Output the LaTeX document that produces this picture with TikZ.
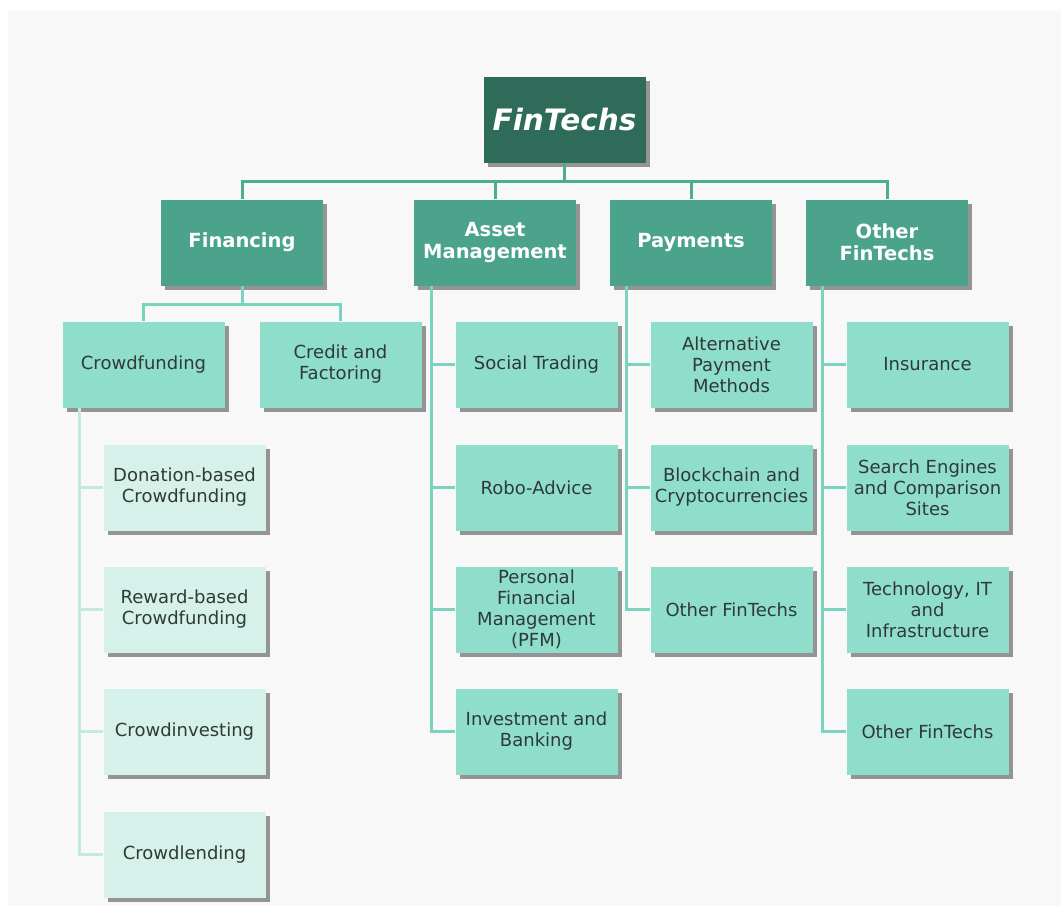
\documentclass[tikz,border=0pt]{standalone}
\usepackage{fontspec}
\setmainfont{DejaVu Sans}
\usetikzlibrary{shadows}

\definecolor{rootgreen}{HTML}{2E6B59}
\definecolor{headgreen}{HTML}{4AA38A}
\definecolor{leafgreen}{HTML}{8FDECB}
\definecolor{subgreen}{HTML}{D5F1EA}
\definecolor{textgray}{HTML}{2F3A36}
\definecolor{pagegray}{HTML}{F8F8F8}
\definecolor{busgreen}{HTML}{4BAE92}
\definecolor{leafbus}{HTML}{7AD3BE}
\definecolor{subbus}{HTML}{C4EAE0}

\tikzset{
  box/.style={minimum width=162pt, minimum height=86pt, inner sep=1pt, align=center,
    drop shadow={shadow xshift=4pt, shadow yshift=-4pt, fill=black, opacity=0.4}},
  root/.style={box, fill=rootgreen, text=white, font=\fontsize{29.5}{32}\selectfont\bfseries\itshape},
  head/.style={box, fill=headgreen, text=white, font=\fontsize{19.5}{22}\selectfont\bfseries},
  leaf/.style={box, fill=leafgreen, text=textgray, font=\fontsize{18}{21}\selectfont},
  subleaf/.style={box, fill=subgreen, text=textgray, font=\fontsize{18}{21}\selectfont},
  mainbus/.style={line width=3pt, draw=busgreen},
  leafline/.style={line width=3pt, draw=leafbus},
  subline/.style={line width=2.5pt, draw=subbus}
}

\begin{document}
\begin{tikzpicture}[x=1pt, y=-1pt]
  \fill[white] (0, 0) rectangle (1061, 916);
  \fill[pagegray] (8, 11) rectangle (1061, 906);
  \useasboundingbox (0, 0) rectangle (1061, 916);

  \node[root] (fintechs) at (564.5, 119.5) {FinTechs};

  \node[head] (financing) at (242, 242.5) {Financing};
  \node[head] (asset) at (495, 242.5) {Asset\\Management};
  \node[head] (payments) at (691, 242.5) {Payments};
  \node[head] (other) at (887, 242.5) {Other\\FinTechs};

  \node[leaf] (crowd) at (143.5, 364.5) {Crowdfunding};
  \node[leaf] (credit) at (340.5, 364.5) {Credit and\\Factoring};

  \node[subleaf] (donation) at (184.5, 487.5) {Donation-based\\Crowdfunding};
  \node[subleaf] (reward) at (184.5, 609.5) {Reward-based\\Crowdfunding};
  \node[subleaf] (investing) at (184.5, 731.5) {Crowdinvesting};
  \node[subleaf] (lending) at (184.5, 854.5) {Crowdlending};

  \node[leaf] (social) at (536.5, 364.5) {Social Trading};
  \node[leaf] (robo) at (536.5, 487.5) {Robo-Advice};
  \node[leaf] (pfm) at (536.5, 609.5) {Personal\\Financial\\Management\\(PFM)};
  \node[leaf] (banking) at (536.5, 731.5) {Investment and\\Banking};

  \node[leaf] (altpay) at (731.5, 364.5) {Alternative\\Payment\\Methods};
  \node[leaf] (crypto) at (731.5, 487.5) {Blockchain and\\Cryptocurrencies};
  \node[leaf] (payother) at (731.5, 609.5) {Other FinTechs};

  \node[leaf] (insurance) at (927.5, 364.5) {Insurance};
  \node[leaf] (search) at (927.5, 487.5) {Search Engines\\and Comparison\\Sites};
  \node[leaf] (tech) at (927.5, 609.5) {Technology, IT\\and\\Infrastructure};
  \node[leaf] (otherother) at (927.5, 731.5) {Other FinTechs};

  \coordinate (crowdbus) at ([xshift=17pt]crowd.south west);
  \coordinate (assetbus) at ([xshift=18pt]asset.south west);
  \coordinate (paybus) at ([xshift=17pt]payments.south west);
  \coordinate (otherbus) at ([xshift=17pt]other.south west);

  \foreach \child in {financing, asset, payments, other}
    \draw[mainbus] (fintechs.south) -- ++(0, 19) -| (\child.north);

  \foreach \child in {crowd, credit}
    \draw[leafline] (financing.south) -- ++(0, 19) -| (\child.north);

  \foreach \child in {social, robo, pfm, banking}
    \draw[leafline] (assetbus) |- (\child.west);
  \foreach \child in {altpay, crypto, payother}
    \draw[leafline] (paybus) |- (\child.west);
  \foreach \child in {insurance, search, tech, otherother}
    \draw[leafline] (otherbus) |- (\child.west);
  \foreach \child in {donation, reward, investing, lending}
    \draw[subline] (crowdbus) |- (\child.west);
\end{tikzpicture}
\end{document}
